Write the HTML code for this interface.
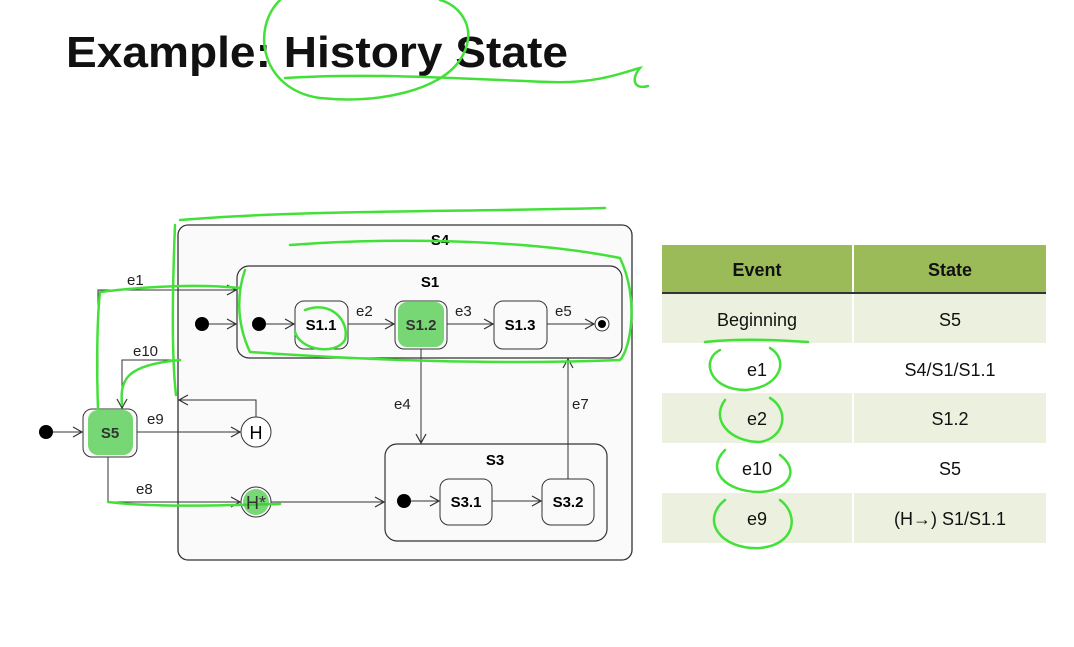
<!DOCTYPE html>
<html><head><meta charset="utf-8"><style>
html,body{margin:0;padding:0;background:#fff;}
svg{display:block;font-family:"Liberation Sans",Arial,sans-serif;}
</style></head><body>
<svg width="1074" height="647" viewBox="0 0 1074 647" xmlns="http://www.w3.org/2000/svg">
<defs>
<marker id="a" markerWidth="12" markerHeight="12" refX="10" refY="6" orient="auto" markerUnits="userSpaceOnUse">
<path d="M1,1 L10,6 L1,11" fill="none" stroke="#333" stroke-width="1.2"/></marker>
</defs>
<text x="66" y="67" font-size="44" font-weight="bold" textLength="502" lengthAdjust="spacingAndGlyphs" fill="#111">Example: History State</text>

<rect x="178" y="225" width="454" height="335" rx="10" fill="#fafafa" stroke="#333" stroke-width="1.3"/>
<text x="440" y="245" font-size="15" font-weight="bold" text-anchor="middle">S4</text>
<rect x="237" y="266" width="385" height="92" rx="12" fill="#fafafa" stroke="#333" stroke-width="1.2"/>
<text x="430" y="287" font-size="15" font-weight="bold" text-anchor="middle">S1</text>
<circle cx="202" cy="324" r="7" fill="#000"/>
<line x1="209" y1="324" x2="236" y2="324" stroke="#333" marker-end="url(#a)"/>
<circle cx="259" cy="324" r="7" fill="#000"/>
<line x1="266" y1="324" x2="294" y2="324" stroke="#333" marker-end="url(#a)"/>
<g font-size="15" font-weight="bold" text-anchor="middle">
<rect x="295" y="301" width="53" height="48" rx="9" fill="#fafafa" stroke="#333"/><text x="321" y="330">S1.1</text>
<rect x="395" y="301" width="52" height="48" rx="9" fill="#fafafa" stroke="#333"/>
<rect x="494" y="301" width="53" height="48" rx="9" fill="#fafafa" stroke="#333"/><text x="520" y="330">S1.3</text>
</g>
<line x1="348" y1="324" x2="394" y2="324" stroke="#333" marker-end="url(#a)"/>
<line x1="447" y1="324" x2="493" y2="324" stroke="#333" marker-end="url(#a)"/>
<line x1="547" y1="324" x2="594" y2="324" stroke="#333" marker-end="url(#a)"/>
<circle cx="602" cy="324" r="7" fill="#fff" stroke="#333"/><circle cx="602" cy="324" r="4" fill="#000"/>
<g font-size="15" fill="#222">
<text x="356" y="316">e2</text><text x="455" y="316">e3</text><text x="555" y="316">e5</text>
<text x="394" y="409">e4</text><text x="572" y="409">e7</text>
<text x="500" y="494">e6</text>
<text x="127" y="285">e1</text><text x="133" y="356">e10</text><text x="147" y="424">e9</text><text x="136" y="494">e8</text>
</g>
<rect x="385" y="444" width="222" height="97" rx="12" fill="#fafafa" stroke="#333" stroke-width="1.2"/>
<text x="495" y="465" font-size="15" font-weight="bold" text-anchor="middle">S3</text>
<circle cx="404" cy="501" r="7" fill="#000"/>
<line x1="411" y1="501" x2="439" y2="501" stroke="#333" marker-end="url(#a)"/>
<g font-size="15" font-weight="bold" text-anchor="middle">
<rect x="440" y="479" width="52" height="46" rx="9" fill="#fafafa" stroke="#333"/><text x="466" y="507">S3.1</text>
<rect x="542" y="479" width="52" height="46" rx="9" fill="#fafafa" stroke="#333"/><text x="568" y="507">S3.2</text>
</g>
<line x1="492" y1="501" x2="541" y2="501" stroke="#333" marker-end="url(#a)"/>
<line x1="421" y1="349" x2="421" y2="443" stroke="#333" marker-end="url(#a)"/>
<line x1="568" y1="479" x2="568" y2="359" stroke="#333" marker-end="url(#a)"/>
<circle cx="46" cy="432" r="7" fill="#000"/>
<line x1="53" y1="432" x2="82" y2="432" stroke="#333" marker-end="url(#a)"/>
<rect x="83" y="409" width="54" height="48" rx="9" fill="#fafafa" stroke="#333"/>
<circle cx="256" cy="432" r="15" fill="#fff" stroke="#333"/><text x="256" y="439" font-size="18" text-anchor="middle">H</text>
<circle cx="256" cy="502" r="15" fill="#fff" stroke="#333"/>
<line x1="137" y1="432" x2="240" y2="432" stroke="#333" marker-end="url(#a)"/>
<polyline points="256,417 256,400 179,400" fill="none" stroke="#333" marker-end="url(#a)"/>
<polyline points="178,360 122,360 122,408" fill="none" stroke="#333" marker-end="url(#a)"/>
<polyline points="98,409 98,290 236,290" fill="none" stroke="#333" marker-end="url(#a)"/>
<polyline points="108,457 108,502 240,502" fill="none" stroke="#333" marker-end="url(#a)"/>
<line x1="271" y1="502" x2="384" y2="502" stroke="#333" marker-end="url(#a)"/>

<rect x="662" y="245" width="384" height="48" fill="#9bbb59"/>
<line x1="853" y1="245" x2="853" y2="293" stroke="#fff" stroke-width="2"/>
<line x1="662" y1="293" x2="1046" y2="293" stroke="#333" stroke-width="2"/>
<rect x="662" y="294" width="384" height="49" fill="#ebf1de"/>
<rect x="662" y="393" width="384" height="50" fill="#ebf1de"/>
<rect x="662" y="493" width="384" height="50" fill="#ebf1de"/>
<line x1="853" y1="294" x2="853" y2="543" stroke="#fff" stroke-width="2"/>
<g font-size="18" text-anchor="middle" fill="#111">
<text x="757" y="276" font-weight="bold">Event</text><text x="950" y="276" font-weight="bold">State</text>
<text x="757" y="326">Beginning</text><text x="950" y="326">S5</text>
<text x="757" y="376">e1</text><text x="950" y="376">S4/S1/S1.1</text>
<text x="757" y="425">e2</text><text x="950" y="425">S1.2</text>
<text x="757" y="475">e10</text><text x="950" y="475">S5</text>
<text x="757" y="525">e9</text><text x="950" y="525">(H→) S1/S1.1</text>
</g>

<g fill="none" stroke="#44e03a" stroke-width="2.5" stroke-linecap="round">
<path d="M280,0 C250,30 262,90 320,98 C380,104 440,90 460,60 C480,30 460,5 440,0"/>
<path d="M285,78 C380,72 480,80 550,82 C600,84 630,70 640,68 C630,80 635,90 648,86"/>
<path d="M180,220 C300,210 450,212 605,208"/>
<path d="M290,245 C380,238 520,238 620,258 C640,300 630,350 620,360 C500,365 360,360 250,352 C235,320 238,290 245,270"/>
<path d="M175,225 C172,300 172,360 176,395"/>
<path d="M305,310 C330,300 350,320 345,340 C335,356 300,350 295,332"/>
<path d="M720,350 C700,360 710,390 745,390 C780,388 790,360 770,348"/>
<path d="M725,400 C710,420 730,442 760,442 C785,438 790,410 770,398"/>
<path d="M725,450 C705,470 725,492 760,492 C790,490 800,470 780,455"/>
<path d="M725,500 C700,520 720,550 760,548 C795,545 800,515 780,500"/>
<path d="M705,342 C740,338 780,340 808,342"/>
<path d="M108,502 C160,508 220,505 280,504"/>
<path d="M98,409 C96,350 98,310 100,292 C150,286 200,284 240,288"/>
<path d="M122,405 C120,380 125,365 180,360"/>
</g>
<g fill="#3fc83a" opacity="0.7">
<rect x="88" y="410" width="45" height="45" rx="10"/>
<rect x="398" y="302" width="46" height="45" rx="9"/>
<circle cx="256" cy="502" r="13"/>
</g>
<text x="110" y="438" font-size="15" font-weight="bold" text-anchor="middle" fill="#333">S5</text>
<text x="421" y="330" font-size="15" font-weight="bold" text-anchor="middle" fill="#333">S1.2</text>
<text x="256" y="509" font-size="18" text-anchor="middle" fill="#333">H*</text>
</svg>
</body></html>
